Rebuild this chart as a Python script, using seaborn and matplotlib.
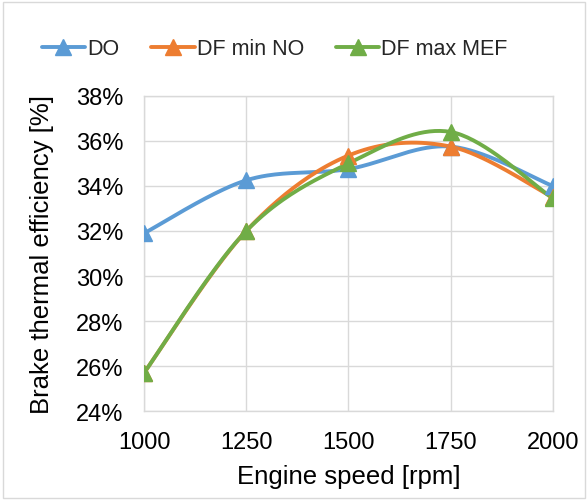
import numpy as np
import pandas as pd
import matplotlib
matplotlib.use("Agg")
import matplotlib.pyplot as plt
import seaborn as sns
from matplotlib.patches import Rectangle

speed = [1000, 1250, 1500, 1750, 2000]
do_vals = [31.9, 34.25, 34.75, 35.75, 34.0]
df_min_no = [25.7, 32.0, 35.35, 35.75, 33.5]
df_max_mef = [25.7, 32.0, 35.0, 36.4, 33.45]
series_names = ["DO", "DF min NO", "DF max MEF"]
colors = ["#5B9BD5", "#ED7D31", "#70AD47"]
y_ticks = [24, 26, 28, 30, 32, 34, 36, 38]
x_ticks = [1000, 1250, 1500, 1750, 2000]


def smooth(xs, ys, n=40):
    xs = np.asarray(xs, float)
    ys = np.asarray(ys, float)
    pts = np.column_stack([xs, ys])
    out = []
    m = len(pts)
    for i in range(m - 1):
        p0 = pts[i - 1] if i > 0 else pts[i]
        p1 = pts[i]
        p2 = pts[i + 1]
        p3 = pts[i + 2] if i + 2 < m else pts[i + 1]
        c1 = p1 + (p2 - p0) / 6.0
        c2 = p2 - (p3 - p1) / 6.0
        t = np.linspace(0, 1, n)[:, None]
        seg = ((1 - t) ** 3) * p1 + 3 * ((1 - t) ** 2) * t * c1 + 3 * (1 - t) * t ** 2 * c2 + t ** 3 * p2
        if i > 0:
            seg = seg[1:]
        out.append(seg)
    return np.vstack(out)


sns.set_theme(style="whitegrid")
plt.rcParams["font.family"] = ["Liberation Sans", "DejaVu Sans"]

fig = plt.figure(figsize=(5.88, 5.02), dpi=100)
ax = fig.add_axes([0.245, 0.179, 0.695, 0.628])

for name, vals, col in zip(series_names, [do_vals, df_min_no, df_max_mef], colors):
    curve = smooth(speed, vals)
    cdf = pd.DataFrame({"x": curve[:, 0], "y": curve[:, 1]})
    sns.lineplot(data=cdf, x="x", y="y", ax=ax, color=col, linewidth=2.8,
                 sort=False, estimator=None, zorder=3)
    pdf = pd.DataFrame({"x": speed, "y": vals})
    ax.plot(pdf["x"], pdf["y"], linestyle="none", marker="^", markersize=12,
            color=col, zorder=4)
    ax.plot([], [], color=col, linewidth=2.8, marker="^", markersize=12, label=name)

ax.set_xlim(1000, 2000)
ax.set_ylim(24, 38)
ax.set_xticks(x_ticks)
ax.set_yticks(y_ticks)
ax.set_yticklabels([f"{v}%" for v in y_ticks])
ax.tick_params(axis="both", labelsize=17, colors="#000000", length=0)
ax.tick_params(axis="x", pad=14)
ax.tick_params(axis="y", pad=15)
ax.set_xlabel("Engine speed [rpm]", fontsize=18.5, color="#000000", labelpad=8)
ax.set_ylabel("Brake thermal efficiency [%]", fontsize=18.5, color="#000000", labelpad=16)
ax.grid(True, color="#D9D9D9", linewidth=1)
for s in ax.spines.values():
    s.set_visible(True)
    s.set_color("#D9D9D9")
    s.set_linewidth(1)
ax.set_facecolor("white")

leg = ax.legend(loc="center", bbox_to_anchor=(0.32, 1.15), ncol=3, frameon=False,
                fontsize=15.5, handlelength=2.0, handletextpad=0.1, columnspacing=1.5)

fig.patches.append(Rectangle((0.005, 0.005), 0.99, 0.99, transform=fig.transFigure,
                             fill=False, edgecolor="#D9D9D9", linewidth=1))

fig.savefig("out.png", dpi=100)
